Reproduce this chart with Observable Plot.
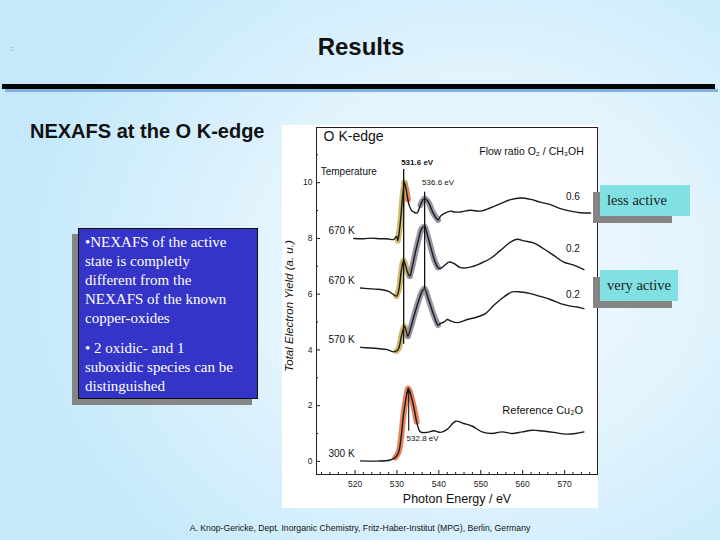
<!DOCTYPE html>
<html>
<head>
<meta charset="utf-8">
<script src="https://cdn.jsdelivr.net/npm/d3@7"></script>
<script src="https://cdn.jsdelivr.net/npm/@observablehq/plot@0.6"></script>
<style>
  html, body { margin: 0; padding: 0; }
  #slide {
    position: relative; width: 720px; height: 540px; overflow: hidden;
    background: radial-gradient(ellipse 75% 85% at 66% 50%, #f3fafe 0%, #e3f4fd 40%, #c5e9fb 85%);
    font-family: "Liberation Sans", Arial, sans-serif;
  }
  .abs { position: absolute; }
  #title { left: 0; width: 722px; top: 33px; text-align: center; font-weight: bold; font-size: 24px; color: #111; }
  #bar { left: 2px; top: 84px; width: 713px; height: 5px; background: #050505; }
  #barShadow { left: 5px; top: 89px; width: 713px; height: 3px; background: #7fb3e3; }
  #heading { left: 30px; top: 120px; font-weight: bold; font-size: 20px; color: #111; }
  #chart { left: 282px; top: 125px; }
  .shadow { background: #858585; }
  #blueBox { left: 78px; top: 228px; width: 180px; height: 171px; background: #3434c8; border: 1px solid #111; box-sizing: border-box;
    color: #fff; font-family: "Liberation Serif", "Times New Roman", serif; font-size: 15px; }
  #blueBox div { position: absolute; left: 6px; white-space: nowrap; line-height: 19px; }
  .cyan { background: #80e0e2; font-family: "Liberation Serif", "Times New Roman", serif; font-size: 14.5px; color: #222; padding-left: 7px; box-sizing: border-box; }
  #caption { left: 0; width: 720px; top: 523px; text-align: center; font-size: 8.7px; color: #111; }
</style>
</head>
<body>
<div id="slide">
  <div class="abs" style="left:11px;top:45px;font-size:7px;color:#444;">:</div>
  <div id="title" class="abs">Results</div>
  <div id="bar" class="abs"></div>
  <div id="barShadow" class="abs"></div>
  <div id="heading" class="abs">NEXAFS at the O K-edge</div>
  <div id="chart" class="abs"></div>

  <div class="abs shadow" style="left:72px;top:234px;width:180px;height:171px;"></div>
  <div id="blueBox" class="abs">
    <div style="top:4px">•NEXAFS of the active</div>
    <div style="top:23px">state is completly</div>
    <div style="top:42px">different from the</div>
    <div style="top:61px">NEXAFS of the known</div>
    <div style="top:80px">copper-oxides</div>
    <div style="top:110px">• 2 oxidic- and 1</div>
    <div style="top:129px">suboxidic species can be</div>
    <div style="top:148px">distinguished</div>
  </div>

  <div class="abs shadow" style="left:593px;top:192px;width:79px;height:31px;"></div>
  <div class="abs cyan" style="left:600px;top:185px;width:90px;height:31px;line-height:31px;">less active</div>
  <div class="abs shadow" style="left:593px;top:277px;width:79px;height:31px;"></div>
  <div class="abs cyan" style="left:600px;top:270px;width:78px;height:31px;line-height:31px;">very active</div>

  <div id="caption" class="abs">A. Knop-Gericke, Dept. Inorganic Chemistry, Fritz-Haber-Institut (MPG), Berlin, Germany</div>
</div>

<script>
// ---- Data (photon energy in eV, yield in a.u.) ----
const e1 = [519.7,522,524,526,528,529.2,529.9,530.2,530.6,531.0,531.4,531.8,532.2,532.6,533.0,533.6,534.2,534.8,535.6,536.56,537.5,538.5,539.8,540.4,541.2,542.8,543.6,545.2,547.5,549.9,552.3,554.7,557.1,559.5,561.9,564.2,566.6,569.0,571.4,573.8,576.2];
const y1 = [8.00,7.99,8.01,7.99,7.98,7.96,8.08,7.92,8.3,8.9,9.6,10.0,9.75,9.4,9.15,8.98,8.93,8.91,9.2,9.43,9.3,8.95,8.66,8.80,8.89,8.98,8.95,8.95,9.01,8.98,9.10,9.25,9.39,9.45,9.40,9.30,9.21,9.07,8.98,8.92,8.91];

const e2 = [521.3,523,525,526.5,528,529.0,529.9,530.5,531.0,531.6,532.1,532.6,533.05,533.6,534.4,535.2,535.9,536.56,537.3,538.2,539.0,539.8,540.4,542.4,543.6,545.2,547.5,549.9,552.3,554.7,557.1,558.7,560.3,562.6,565.0,567.4,569.8,572.2,574.6];
const y2 = [6.22,6.20,6.18,6.16,6.10,6.00,5.93,6.2,6.8,7.21,7.0,6.75,6.65,6.95,7.5,8.0,8.35,8.43,8.1,7.6,7.2,6.95,6.92,7.15,7.10,6.95,6.97,7.10,7.28,7.57,7.87,7.97,7.91,7.84,7.63,7.39,7.15,7.04,6.88];

const e3 = [521.3,523.5,525.3,527.7,529.2,529.9,530.4,531.2,531.8,532.3,532.6,533.3,534.0,535.2,536.0,536.56,537.6,538.8,539.8,540.4,541.2,542.0,542.8,544.4,546.8,549.1,551.1,553.1,555.5,557.5,559.5,561.9,564.2,566.6,569.0,571.4,573.0,574.6];
const y3 = [4.09,4.07,4.05,4.01,3.93,3.96,4.05,4.59,4.85,4.62,4.49,4.8,5.18,5.78,6.1,6.2,5.78,5.24,4.89,4.95,5.0,5.09,5.04,4.98,5.09,5.18,5.30,5.60,5.90,6.08,6.08,6.02,5.92,5.81,5.66,5.57,5.54,5.48];

const e4 = [521.3,525.3,528.4,529.6,530.4,531.0,531.6,532.3,532.7,533.2,534.0,534.7,535.6,537.2,538.8,540.4,542.0,544.0,545.9,547.9,550.3,552.7,555.1,557.5,559.9,562.3,564.7,567.4,570.2,572.6,574.6];
const y4 = [0.02,0.01,0.05,0.14,0.34,0.88,1.72,2.38,2.62,2.44,1.96,1.42,1.06,1.04,1.10,1.04,1.15,1.44,1.36,1.27,1.06,1.0,1.06,1.0,1.06,1.12,1.09,1.04,0.98,1.0,1.06];

const temperatures = ["670 K", "670 K", "570 K", "300 K"];
const flowRatios = ["0.6", "0.2", "0.2"];
const peakEnergies = [531.6, 536.6, 532.8];

// Highlighted peak components (curve index, species, energy range)
const hlCurve = [1, 1, 1, 2, 2, 3, 3, 4];
const hlSpecies = ["oxidic1", "suboxidic", "oxidic2", "suboxidic", "oxidic2", "suboxidic", "oxidic2", "oxidic1"];
const hlFrom = [531.8, 530.2, 535.6, 529.9, 533.05, 529.9, 532.6, 529.6];
const hlTo   = [532.6, 531.8, 539.8, 533.05, 539.8, 532.6, 539.8, 534.7];

const xTicks = [520, 530, 540, 550, 560, 570];
const yTicks = [0, 2, 4, 6, 8, 10];

// ---- Build tables ----
const es = [e1, e2, e3, e4], ys = [y1, y2, y3, y4];
const spectra = [];
es.forEach((E, c) => E.forEach((e, i) => spectra.push({curve: c + 1, e, v: ys[c][i]})));
const highlights = [];
hlCurve.forEach((c, k) => {
  es[c - 1].forEach((e, i) => {
    if (e >= hlFrom[k] - 1e-9 && e <= hlTo[k] + 1e-9) highlights.push({seg: k, species: hlSpecies[k], e, v: ys[c - 1][i]});
  });
});
const tempLabels = temperatures.map((t, i) => ({t, v: ys[i][0] + 0.27}));
const flowY = [9.51, 7.63, 5.96];
const flowLabels = flowRatios.map((t, i) => ({t, v: flowY[i]}));

const minorX = d3.range(512, 578, 2).filter(d => d % 10 !== 0);
const minorY = [1, 3, 5, 7, 9, 11];

const chart = Plot.plot({
  width: 316,
  height: 383,
  marginLeft: 34,
  marginRight: 1,
  marginTop: 2,
  marginBottom: 34,
  style: {background: "#ffffff", color: "#1a1a1a", fontFamily: "'Liberation Sans', Arial, sans-serif", fontSize: "8px"},
  x: {domain: [510.8, 577.85]},
  y: {domain: [-0.47, 11.98]},
  color: {domain: ["oxidic1", "suboxidic", "oxidic2"], range: ["#e2744a", "#ccb25e", "#8d8b9b"]},
  marks: [
    Plot.frame({stroke: "#222", strokeWidth: 1}),
    Plot.axisX({ticks: xTicks, tickSize: -4, tickPadding: 10, label: null, fontSize: 8.5}),
    Plot.axisX({ticks: minorX, tickSize: -2, tickFormat: () => "", label: null}),
    Plot.axisY({ticks: yTicks, tickSize: -4, tickPadding: 8, label: null, fontSize: 8.5}),
    Plot.axisY({ticks: minorY, tickSize: -2, tickFormat: () => "", label: null}),
    Plot.text(["Photon Energy / eV"], {frameAnchor: "bottom", dy: 28, fontSize: 12.5, fill: "#111"}),
    Plot.text(["Total Electron Yield (a. u.)"], {frameAnchor: "left", textAnchor: "middle", rotate: -90, dx: -27, dy: 5, fontSize: 11.5, fontStyle: "italic", fill: "#111"}),
    // thick coloured components
    Plot.line(highlights, {x: "e", y: "v", z: "seg", stroke: "species", strokeWidth: 6, strokeOpacity: 0.9, curve: "catmull-rom"}),
    // spectra
    Plot.line(spectra, {x: "e", y: "v", z: "curve", stroke: "#1a1a1a", strokeWidth: 1.4, curve: "catmull-rom"}),
    // peak markers
    Plot.ruleX([peakEnergies[0]], {y1: 4.2, y2: 10.47, stroke: "#111", strokeWidth: 1.3}),
    Plot.ruleX([peakEnergies[1]], {y1: 6.2, y2: 9.66, stroke: "#111", strokeWidth: 1.3}),
    Plot.arrow([peakEnergies[2]], {x1: d => d, x2: d => d, y1: 1.12, y2: 2.56, stroke: "#111", strokeWidth: 1.1, headLength: 5}),
    Plot.text([peakEnergies[0]], {x: d => d - 0.6, y: 10.74, text: d => `${d.toFixed(1)} eV`, textAnchor: "start", fontSize: 8, fontWeight: "bold", fill: "#111"}),
    Plot.text([peakEnergies[1]], {x: d => d - 0.6, y: 10.0, text: d => `${d.toFixed(1)} eV`, textAnchor: "start", fontSize: 8, fill: "#111"}),
    Plot.text([peakEnergies[2]], {x: d => d - 0.5, y: 0.82, text: d => `${d.toFixed(1)} eV`, textAnchor: "start", fontSize: 8, fill: "#111"}),
    // annotations
    Plot.text(["O K-edge"], {x: 512.5, y: 11.66, textAnchor: "start", fontSize: 14, fill: "#111"}),
    Plot.text(["Temperature"], {x: 511.8, y: 10.38, textAnchor: "start", fontSize: 10, fill: "#111"}),
    Plot.text(["Flow ratio O₂ / CH₃OH"], {x: 574.6, y: 11.1, textAnchor: "end", fontSize: 10.5, fill: "#111"}),
    Plot.text(tempLabels, {x: 519.9, y: "v", text: "t", textAnchor: "end", fontSize: 10, fill: "#111"}),
    Plot.text(flowLabels, {x: 572.0, y: "v", text: "t", fontSize: 10, fill: "#111"}),
    Plot.text(["Reference Cu₂O"], {x: 574.4, y: 1.84, textAnchor: "end", fontSize: 11, fill: "#111"})
  ]
});
document.getElementById("chart").appendChild(chart);
</script>
</body>
</html>
